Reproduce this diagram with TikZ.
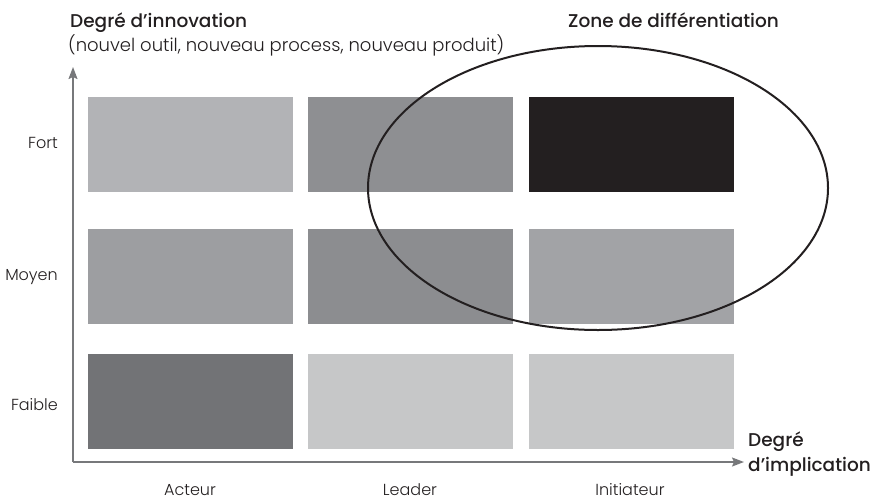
\documentclass[tikz,border=0pt]{standalone}
\usepackage{fontspec}
\setmainfont{Poppins}
\newfontfamily\lightfont{Poppins Light}
\newfontfamily\mediumfont{Poppins Medium}
\usetikzlibrary{arrows.meta}
\definecolor{ink}{HTML}{231F20}
\definecolor{axisgray}{HTML}{77787B}
\definecolor{cA}{HTML}{B2B3B6}
\definecolor{cB}{HTML}{8E8F92}
\definecolor{cC}{HTML}{231F20}
\definecolor{cD}{HTML}{9D9EA1}
\definecolor{cE}{HTML}{8C8D90}
\definecolor{cF}{HTML}{A2A3A6}
\definecolor{cG}{HTML}{727376}
\definecolor{cH}{HTML}{C6C7C8}
\tikzset{
  cell/.style={draw=none, inner sep=0pt, minimum width=205pt, minimum height=95pt},
  axisline/.style={draw=axisgray, line width=1.5pt, -{Stealth[length=12pt,width=9pt,inset=2pt]}},
  title/.style={text=ink, inner sep=0pt, font=\mediumfont\fontsize{18.5}{22}\selectfont},
  subtitle/.style={text=ink, inner sep=0pt, font=\lightfont\fontsize{18}{21}\selectfont},
  lbl/.style={text=ink, inner sep=0pt, font=\lightfont\fontsize{16}{19}\selectfont},
  zoneline/.style={draw=ink, line width=2pt}
}
\begin{document}
\begin{tikzpicture}[x=1pt, y=-1pt]
\useasboundingbox (0,0) rectangle (872,499);
% cells
\node[cell, fill=cA] (r1c1) at (190.5,144.5) {};
\node[cell, fill=cB] (r1c2) at (410,144.5) {};
\node[cell, fill=cC] (r1c3) at (631.5,144.5) {};
\node[cell, fill=cD] (r2c1) at (190.5,276) {};
\node[cell, fill=cE] (r2c2) at (410,276) {};
\node[cell, fill=cF] (r2c3) at (631.5,276) {};
\node[cell, fill=cG] (r3c1) at (190.5,401.5) {};
\node[cell, fill=cH] (r3c2) at (410,401.5) {};
\node[cell, fill=cH] (r3c3) at (631.5,401.5) {};
% axes
\coordinate (origin) at (73,462);
\coordinate (ytip) at (73,67);
\coordinate (xtip) at (744,462);
\draw[axisline] (origin) -- (ytip);
\draw[axisline] (origin) -- (xtip);
% zone
\draw[zoneline] (598,188) ellipse [x radius=230, y radius=142];
% texts
\node[title, anchor=base west] (ytitle) at (70,27) {Degré d’innovation};
\node[subtitle, anchor=base west] (ysub) at (68,51) {(nouvel outil, nouveau process, nouveau produit)};
\node[title, anchor=base west] (ztitle) at (568,27) {Zone de différentiation};
\node[title, anchor=base west] (xtitle1) at (748,446) {Degré};
\node[title, anchor=base west] (xtitle2) at (748,471) {d’implication};
\node[lbl, anchor=base east] (fort) at (58,148) {Fort};
\node[lbl, anchor=base east] (moyen) at (58,280) {Moyen};
\node[lbl, anchor=base east] (faible) at (58,410) {Faible};
\node[lbl, anchor=base] (acteur) at (190,495) {Acteur};
\node[lbl, anchor=base] (leader) at (410,495) {Leader};
\node[lbl, anchor=base] (init) at (630,495) {Initiateur};
\end{tikzpicture}
\end{document}
